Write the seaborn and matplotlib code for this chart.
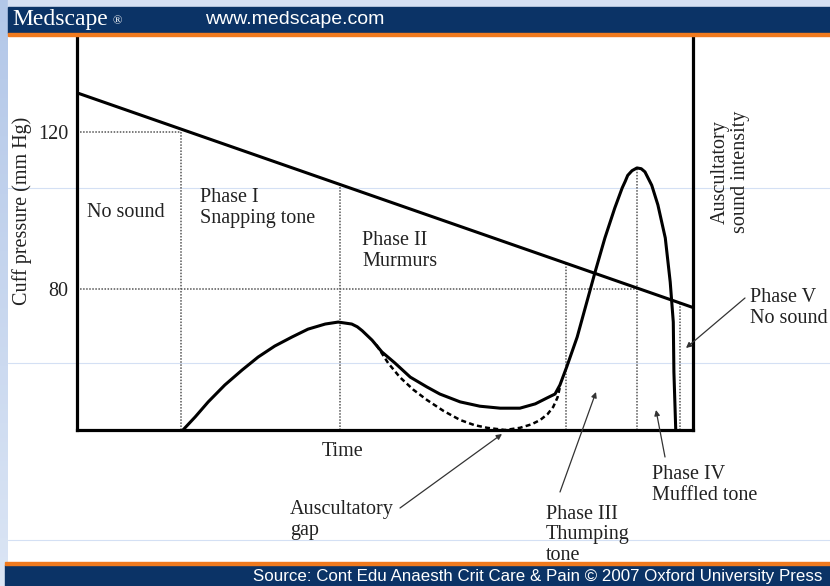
import numpy as np
import matplotlib
matplotlib.use("Agg")
import matplotlib.pyplot as plt
from matplotlib.lines import Line2D
from matplotlib.patches import Rectangle
import seaborn as sns

# time runs 0..100 across the axes, pressure in mm Hg
cuff_time = [0, 100]
cuff_pressure = [129.9, 75.3]

# auscultatory sound intensity (drawn on the same scale)
sound_time = [17.2, 19.2, 21.3, 24.0, 26.8, 29.4, 32.1, 34.9, 37.5, 40.3, 42.4,
              44.6, 45.5, 46.3, 47.9, 49.5, 51.6, 54.1, 56.8, 58.9, 62.2, 65.4, 68.7,
              71.9, 74.4, 76.3, 77.6, 78.4, 79.5, 81.2, 82.5, 84.1, 85.7, 87.3,
              88.5, 89.0, 89.4, 90.1, 90.9, 91.6, 92.2, 93.3, 94.3, 95.5, 96.3,
              96.8, 96.9, 97.2]
sound_level = [44.15, 47.5, 51.3, 55.6, 59.4, 62.7, 65.5, 67.8, 69.8, 71.1, 71.6,
               71.1, 70.4, 69.4, 67.0, 64.0, 61.2, 57.6, 55.1, 53.3, 51.3, 50.2, 49.7,
               49.7, 50.8, 52.3, 53.3, 55.6, 60.2, 67.8, 75.2, 84.3, 93.0, 100.6,
               105.7, 107.4, 108.9, 110.1, 110.8, 110.6, 109.8, 106.4, 101.4, 93.0, 81.8,
               71.6, 58.9, 44.15]

# dashed branch showing the auscultatory gap
gap_time = [48.6, 50.5, 52.4, 54.6, 56.8, 59.5, 62.2, 64.5, 66.6, 69.5, 71.9,
            73.8, 75.2, 76.4, 77.3, 78.0, 78.4]
gap_level = [65.8, 61.2, 57.6, 54.4, 51.8, 49.0, 46.7, 45.4, 44.7, 44.15, 44.7,
             45.6, 46.7, 48.2, 50.0, 52.4, 55.1]

phase_bounds = [16.9, 42.7, 79.4, 90.9, 97.9]
phase_tops = [120.0, 106.6, 86.5, 110.8, 76.4]
ref_levels = [120, 80]
ref_ends = [16.9, 90.9]
y_ticks = [80, 120]

W, H = 830, 586
Y0, Y1 = 44.15, 144.1


def fx(x):
    return x / W


def fy(y):
    return 1 - y / H


sns.set_style("white")
plt.rcParams["font.family"] = ["Liberation Serif", "DejaVu Serif"]

fig = plt.figure(figsize=(8.3, 5.86), dpi=100)

# slide background: light blue strip, banners, faint rules
grad = np.linspace(0, 1, H)[:, None, None]
top_c = np.array([0.86, 0.90, 0.96])
bot_c = np.array([0.70, 0.78, 0.91])
strip = (top_c * (1 - grad) + bot_c * grad) * np.ones((H, 8, 3))
fig.figimage(strip[::-1], xo=0, yo=0, zorder=0)
fig.patches.append(Rectangle((fx(8), fy(7)), 1, 7 / H, transform=fig.transFigure,
                             color="#d6e0f2", zorder=1))
fig.patches.append(Rectangle((fx(8), fy(33)), 1, 26 / H, transform=fig.transFigure,
                             color="#0b3366", zorder=1))
fig.patches.append(Rectangle((fx(8), fy(36)), 1, 3 / H, transform=fig.transFigure,
                             color="#f07a1e", zorder=1))
fig.patches.append(Rectangle((fx(5), 0), 1, 21 / H, transform=fig.transFigure,
                             color="#0b3366", zorder=1))
fig.patches.append(Rectangle((fx(5), fy(565)), 1, 3 / H, transform=fig.transFigure,
                             color="#f07a1e", zorder=1))
for yy in [188, 363, 540]:
    fig.add_artist(Line2D([fx(8), 1], [fy(yy), fy(yy)], transform=fig.transFigure,
                          color="#d4e0f4", lw=0.8, zorder=0))

fig.text(fx(12), fy(20), "Medscape", color="white", fontsize=17, va="center",
         family=["Liberation Serif"], zorder=3)
fig.text(fx(112), fy(21), "®", color="white", fontsize=9, va="center", zorder=3)
fig.text(fx(205), fy(20), "www.medscape.com", color="white", fontsize=14, va="center",
         family=["Liberation Sans"], zorder=3)
fig.text(fx(822), fy(576), "Source: Cont Edu Anaesth Crit Care & Pain © 2007 Oxford University Press",
         color="white", fontsize=12.2, ha="right", va="center", family=["Liberation Sans"], zorder=3)

ax = fig.add_axes([fx(77), fy(430), 616 / W, 393 / H])
ax.patch.set_alpha(0)

dot = dict(color="#555555", lw=1.1, linestyles=(0, (1, 1)))
ax.vlines(phase_bounds, Y0, phase_tops, **dot)
ax.hlines(ref_levels, 0, ref_ends, **dot)

solid = dict(color="black", lw=2.2, sort=False, solid_joinstyle="round",
             solid_capstyle="round")
sns.lineplot(x=cuff_time, y=cuff_pressure, ax=ax, **solid)
sns.lineplot(x=sound_time, y=sound_level, ax=ax, **solid)
sns.lineplot(x=gap_time, y=gap_level, ax=ax, color="black", lw=1.8, sort=False,
             linestyle=(0, (2, 1.3)))

ax.set_xlim(0, 100)
ax.set_ylim(Y0, Y1)
ax.set_xticks([])
ax.set_yticks(y_ticks)
ax.set_yticklabels([str(v) for v in y_ticks], fontsize=14.5, color="#222222")
ax.tick_params(axis="y", length=0, pad=6)
ax.set_xlabel("")
ax.set_ylabel("")
ax.spines["top"].set_visible(False)
for s in ["left", "bottom", "right"]:
    ax.spines[s].set_linewidth(2.3)
    ax.spines[s].set_color("black")

txt = dict(fontsize=14.5, color="#222222", va="center", linespacing=1.1)
fig.text(fx(22), fy(211), "Cuff pressure (mm Hg)", rotation=90, ha="center", **txt)
fig.text(fx(730), fy(172), "Auscultatory\nsound intensity", rotation=90, ha="center",
         multialignment="center", **txt)
fig.text(fx(343), fy(452), "Time", ha="center", **txt)
fig.text(fx(87), fy(212), "No sound", ha="left", **txt)
fig.text(fx(200), fy(208), "Phase I\nSnapping tone", ha="left", **txt)
fig.text(fx(362), fy(251), "Phase II\nMurmurs", ha="left", **txt)
fig.text(fx(546), fy(535), "Phase III\nThumping\ntone", ha="left", **txt)
fig.text(fx(652), fy(485), "Phase IV\nMuffled tone", ha="left", **txt)
fig.text(fx(290), fy(520), "Auscultatory\ngap", ha="left", **txt)
fig.text(fx(750), fy(308), "Phase V\nNo sound", ha="left", **txt)

arrows = [((400, 508), (502, 434)),
          ((560, 492), (596, 392)),
          ((665, 457), (656, 410)),
          ((745, 298), (686, 348))]
for (x0, y0), (x1, y1) in arrows:
    ax.annotate("", xy=(fx(x1), fy(y1)), xycoords="figure fraction",
                xytext=(fx(x0), fy(y0)), textcoords="figure fraction",
                annotation_clip=False,
                arrowprops=dict(arrowstyle="-|>", color="#333333", lw=0.9,
                                mutation_scale=8, shrinkA=0, shrinkB=0))

fig.savefig("out.png", dpi=100)
